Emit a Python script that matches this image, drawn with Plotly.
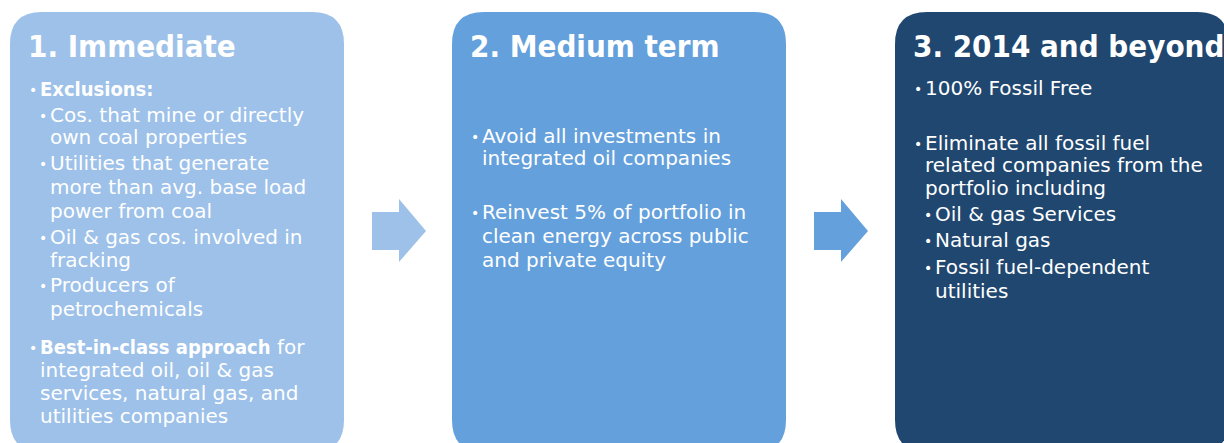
import plotly.graph_objects as go

# ---- content ----
stage_titles = ["1. Immediate", "2. Medium term", "3. 2014 and beyond"]

stage1_lines = [
    "<b>Exclusions:</b>",
    "Cos. that mine or directly", "own coal properties",
    "Utilities that generate", "more than avg. base load", "power from coal",
    "Oil & gas cos. involved in", "fracking",
    "Producers of", "petrochemicals",
    "<b>Best-in-class approach</b> for", "integrated oil, oil & gas",
    "services, natural gas, and", "utilities companies",
]
stage1_bullet = [1, 1, 0, 1, 0, 0, 1, 0, 1, 0, 1, 0, 0, 0]
stage1_level = [0, 1, 1, 1, 1, 1, 1, 1, 1, 1, 0, 0, 0, 0]
stage1_y = [89, 115, 137, 163, 187, 211, 237, 260, 285, 309, 347, 370, 393, 416]

stage2_lines = [
    "Avoid all investments in", "integrated oil companies",
    "Reinvest 5% of portfolio in", "clean energy across public", "and private equity",
]
stage2_bullet = [1, 0, 1, 0, 0]
stage2_level = [0, 0, 0, 0, 0]
stage2_y = [136, 158, 212, 236, 260]

stage3_lines = [
    "100% Fossil Free",
    "Eliminate all fossil fuel", "related companies from the", "portfolio including",
    "Oil & gas Services", "Natural gas",
    "Fossil fuel-dependent", "utilities",
]
stage3_bullet = [1, 1, 0, 0, 1, 1, 1, 0]
stage3_level = [0, 0, 0, 0, 1, 1, 1, 1]
stage3_y = [88, 143, 165, 188, 214, 240, 267, 291]

# ---- styling / layout ----
W, H = 1224, 443
box_x0 = [10, 452, 895]
box_w = 334
box_top, box_bottom, radius = 12, 452, 32
box_colors = ["#9DC1E9", "#64A0DC", "#1F4770"]
arrow_x0 = [372, 814]
arrow_colors = ["#9DC1E9", "#64A0DC"]

BODY_FONT = "DejaVu Sans, Liberation Sans, sans-serif"
BOLD_FONT = "DejaVu Sans Condensed, DejaVu Sans, sans-serif"


def rounded_rect(x0, y0, x1, y1, r):
    return (f"M {x0+r},{y0} L {x1-r},{y0} Q {x1},{y0} {x1},{y0+r} "
            f"L {x1},{y1-r} Q {x1},{y1} {x1-r},{y1} L {x0+r},{y1} "
            f"Q {x0},{y1} {x0},{y1-r} L {x0},{y0+r} Q {x0},{y0} {x0+r},{y0} Z")


def arrow(x0):
    sx1, tip = x0 + 27, x0 + 54
    return (f"M {x0},212 L {sx1},212 L {sx1},199 L {tip},231 "
            f"L {sx1},262 L {sx1},250 L {x0},250 Z")


fig = go.Figure()
fig.add_trace(go.Scatter(x=[0, W], y=[0, H], mode="markers",
                         marker=dict(opacity=0), hoverinfo="skip", showlegend=False))

shapes = []
for x0, c in zip(box_x0, box_colors):
    shapes.append(dict(type="path", xref="x", yref="y",
                       path=rounded_rect(x0, box_top, x0 + box_w, box_bottom, radius),
                       fillcolor=c, line=dict(width=0), layer="below"))
for x0, c in zip(arrow_x0, arrow_colors):
    shapes.append(dict(type="path", xref="x", yref="y", path=arrow(x0),
                       fillcolor=c, line=dict(width=0), layer="below"))

annotations = []
for x0, title in zip(box_x0, stage_titles):
    annotations.append(dict(x=x0 + 16, y=46, xref="x", yref="y", text=f"<b>{title}</b>",
                            showarrow=False, xanchor="left", yanchor="middle",
                            font=dict(family=BOLD_FONT, size=31, color="white")))

stages = [(stage1_lines, stage1_bullet, stage1_level, stage1_y),
          (stage2_lines, stage2_bullet, stage2_level, stage2_y),
          (stage3_lines, stage3_bullet, stage3_level, stage3_y)]

for x0, (lines, bullets, levels, ys) in zip(box_x0, stages):
    for txt, b, lvl, y in zip(lines, bullets, levels, ys):
        bx = x0 + 18 + 10 * lvl
        tx = bx + 10
        if "<b>" in txt:
            txt = txt.replace("<b>", "<span style=\"font-family:DejaVu Sans Condensed\"><b>").replace("</b>", "</b></span>")
        annotations.append(dict(x=tx, y=y, xref="x", yref="y", text=txt,
                                showarrow=False, xanchor="left", yanchor="middle",
                                font=dict(family=BODY_FONT, size=20, color="white")))
        if b:
            annotations.append(dict(x=bx - 1, y=y + 1, xref="x", yref="y", text="•",
                                    showarrow=False, xanchor="left", yanchor="middle",
                                    font=dict(family=BODY_FONT, size=14, color="white")))

fig.update_layout(
    width=W, height=H,
    margin=dict(l=0, r=0, t=0, b=0),
    paper_bgcolor="white", plot_bgcolor="white",
    xaxis=dict(range=[0, W], visible=False, fixedrange=True),
    yaxis=dict(range=[H, 0], visible=False, fixedrange=True),
    shapes=shapes, annotations=annotations, showlegend=False,
)

fig.write_html("out.html", config={"displayModeBar": False},
               post_script="document.body.style.margin='0';document.body.style.overflow='hidden';")
